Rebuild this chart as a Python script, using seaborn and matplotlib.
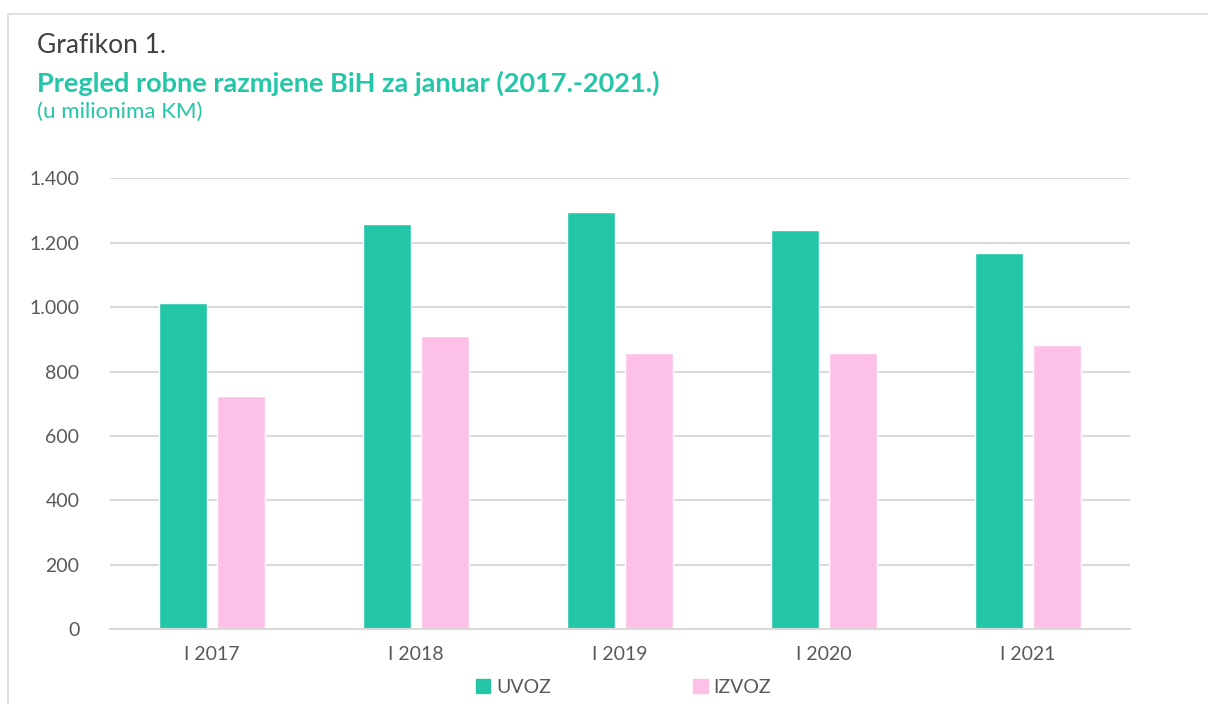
import pandas as pd
import seaborn as sns
import matplotlib.pyplot as plt
from matplotlib.patches import Rectangle
from matplotlib.ticker import FuncFormatter

categories = ['I 2017', 'I 2018', 'I 2019', 'I 2020', 'I 2021']
uvoz = [1012, 1258, 1296, 1240, 1169]
izvoz = [724, 910, 858, 858, 883]
series = ['UVOZ', 'IZVOZ']

df = pd.DataFrame({
    'period': categories * 2,
    'vrsta': [series[0]] * len(uvoz) + [series[1]] * len(izvoz),
    'vrijednost': uvoz + izvoz,
})

sns.set_style('white')
plt.rcParams['font.family'] = ['Lato', 'DejaVu Sans']

green = '#23C6A7'
pink = '#FDC1E8'
gray = '#595959'
grid = '#D9D9D9'

fig = plt.figure(figsize=(12.08, 7.04), dpi=100)
ax = fig.add_axes([0.0911, 0.1061, 0.8444, 0.6406])

sns.barplot(data=df, x='period', y='vrijednost', hue='vrsta', palette=[green, pink],
            width=0.57, gap=0.17, ax=ax, legend=False, saturation=1)

ax.set_ylim(0, 1400)
ax.set_yticks(range(0, 1401, 200))
ax.yaxis.set_major_formatter(FuncFormatter(lambda v, p: f'{int(v):,}'.replace(',', '.')))
ax.set_xlim(-0.5, 4.5)
ax.grid(axis='y', color=grid, lw=1.5)
ax.set_axisbelow(True)
for s in ['top', 'right', 'left']:
    ax.spines[s].set_visible(False)
ax.spines['bottom'].set_color(grid)
ax.spines['bottom'].set_linewidth(1.5)
ax.tick_params(axis='both', length=0, colors=gray, labelsize=14)
ax.tick_params(axis='y', pad=22)
ax.tick_params(axis='x', pad=12)
ax.set_xlabel('')
ax.set_ylabel('')

# legend
handles = [Rectangle((0, 0), 1, 1, color=c) for c in [green, pink]]
fig.legend(handles, series, loc='center', bbox_to_anchor=(0.516, 0.024), ncol=2,
           frameon=False, fontsize=14, handlelength=0.75, handleheight=0.75,
           handletextpad=0.3, columnspacing=7.3, labelcolor=gray)

# titles
fig.text(0.031, 0.936, 'Grafikon 1.', fontsize=19, color='#404040', va='center')
fig.text(0.031, 0.881, 'Pregled robne razmjene BiH za januar (2017.-2021.)', fontsize=19.5,
         fontweight='bold', color=green, va='center')
fig.text(0.031, 0.841, '(u milionima KM)', fontsize=16, color=green, va='center')

# chart border
fig.add_artist(Rectangle((0.0066, -0.05), 1.2, 1.03, transform=fig.transFigure,
                         fill=False, edgecolor=grid, lw=1.2))

fig.savefig('out.png', dpi=100)
